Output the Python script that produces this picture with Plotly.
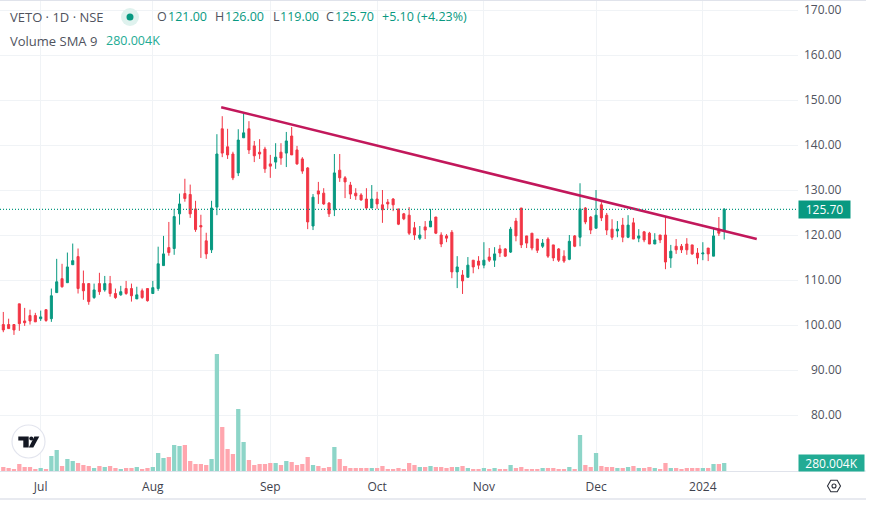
import plotly.graph_objects as go

# Daily OHLC and volume for VETO (NSE), late June 2023 to early January 2024.
opens = [100.1,100.1,100.1,104.7,100.9,102.1,102.1,101.4,103.4,101.4,107.2,110.3,109.4,113.4,115.2,109.2,109.2,106.1,109.2,107.8,
         109.2,107.0,106.7,108.1,108.1,105.8,107.6,108.1,107.0,108.1,113.2,117.2,117.0,124.7,129.2,129.0,125.8,122.1,118.7,116.7,
         126.2,143.6,139.6,138.0,133.8,141.6,143.6,139.8,138.4,139.1,135.8,136.2,138.4,138.2,142.0,138.9,136.9,134.9,122.0,129.8,
         129.3,127.1,125.6,134.4,132.7,131.1,129.3,128.9,128.0,126.0,128.0,126.7,127.3,128.0,125.8,124.7,124.4,121.6,119.3,121.8,
         121.8,124.0,120.0,119.8,120.6,111.8,111.1,110.6,114.4,114.2,113.3,115.1,114.4,116.9,116.9,116.2,123.1,126.0,119.8,120.4,
         119.1,117.5,119.1,117.8,116.9,115.3,114.6,119.8,119.5,126.0,124.0,121.5,126.7,124.4,121.3,120.9,122.2,119.5,122.7,119.3,
         120.7,120.4,118.0,120.0,120.0,114.9,117.5,117.5,118.0,117.8,116.0,115.8,117.1,115.3,121.3,121.0]
highs = [102.9,101.4,100.1,104.7,103.8,103.4,102.7,103.2,103.4,108.1,114.7,113.6,116.1,118.1,117.0,112.1,109.2,109.2,111.6,110.9,
         110.9,108.1,108.7,109.8,109.2,108.5,108.1,108.1,109.8,117.4,119.8,122.9,125.8,129.2,132.5,131.2,127.6,124.5,120.5,127.6,
         142.4,146.4,143.6,138.5,143.5,146.9,145.3,140.9,141.3,139.6,137.8,140.4,140.4,142.9,144.0,139.8,137.3,135.1,129.1,131.8,
         130.4,127.3,138.0,138.0,133.1,131.8,130.4,129.3,130.4,131.1,129.6,130.0,128.0,128.2,125.8,124.9,126.2,122.9,122.0,123.1,
         125.8,124.0,120.6,120.2,121.1,115.3,112.2,115.1,114.4,115.3,118.4,117.1,117.3,117.8,117.1,121.8,123.8,126.0,119.8,120.4,
         119.1,119.1,119.5,117.8,117.1,116.6,120.0,120.0,131.5,126.2,124.2,130.0,127.3,124.9,123.5,123.1,123.8,124.4,123.8,121.3,
         120.9,120.7,120.4,120.0,124.2,117.8,119.1,118.0,119.3,117.8,117.1,118.4,117.1,121.5,124.0,126.0]
lows = [98.4,99.2,97.8,98.7,99.8,100.1,100.7,100.9,100.7,100.7,107.2,108.3,109.4,113.4,107.0,105.6,104.5,105.8,106.7,107.4,
        106.3,105.8,106.5,106.7,105.2,105.8,105.8,105.2,107.0,107.6,113.2,115.4,115.6,122.3,127.4,123.8,120.7,114.9,114.7,116.0,
        124.4,137.3,136.9,132.2,133.1,141.6,138.0,136.2,136.9,133.8,132.7,134.7,135.6,135.1,137.8,135.6,133.6,121.3,121.1,126.9,
        126.7,124.0,124.2,131.8,128.2,128.0,127.8,127.6,125.6,126.0,125.8,122.7,125.8,125.3,122.2,123.3,120.0,118.9,118.9,119.1,
        121.8,120.2,117.3,118.4,110.4,108.2,106.9,110.6,111.5,112.4,112.6,114.0,112.9,115.1,115.1,116.0,118.6,117.1,117.1,116.6,
        116.0,117.1,114.9,114.2,114.0,113.8,114.4,117.3,117.5,122.4,120.2,121.5,123.1,120.0,118.9,119.5,118.4,119.3,119.1,118.4,
        118.4,118.0,118.0,118.2,112.4,112.7,115.8,116.0,115.6,115.6,113.5,114.4,114.2,115.3,119.8,119.0]
closes = [98.9,99.2,98.9,100.3,100.5,100.9,100.7,101.8,101.0,106.5,109.6,108.5,112.9,114.3,108.1,107.6,105.2,107.8,107.4,109.2,
          107.0,106.1,107.4,107.0,106.5,106.7,106.1,105.4,108.3,113.6,115.8,116.1,124.1,126.9,128.1,124.7,121.2,121.8,115.8,126.0,
          138.0,138.2,137.8,132.7,141.1,142.7,138.9,137.6,138.0,134.7,135.3,137.3,137.1,140.9,137.8,135.8,134.2,122.9,128.4,129.1,
          126.9,124.7,133.8,132.7,131.8,129.1,128.7,127.8,126.0,128.0,126.9,125.6,126.9,126.7,122.4,123.6,120.4,120.0,120.0,121.1,
          123.1,120.4,118.0,119.3,111.8,112.9,109.8,113.3,112.9,113.3,114.4,114.4,115.8,116.0,115.3,121.3,119.8,117.8,118.2,117.1,
          116.6,118.2,115.3,114.9,114.4,114.2,118.6,117.5,125.8,122.9,121.1,124.4,123.8,121.1,119.5,121.3,119.5,122.2,119.1,119.8,
          118.9,118.0,118.9,118.9,114.0,116.4,116.7,116.7,116.7,115.8,114.9,116.0,115.8,119.8,120.4,125.7]
volumes_k = [252,189,126,441,252,252,126,189,126,945,1323,315,756,630,504,378,315,189,315,252,
             315,189,126,189,189,252,126,189,252,1134,819,882,1638,1575,1638,630,441,441,378,756,
             7371,2772,1386,1071,3906,1827,693,378,441,441,504,504,378,630,567,378,441,882,378,315,
             189,252,1512,756,315,189,189,189,189,189,189,315,126,126,189,126,504,378,252,252,
             315,252,252,189,252,252,315,189,126,126,189,126,189,126,126,378,189,252,126,126,
             126,189,189,189,126,126,252,126,2268,378,252,1134,315,252,252,189,189,252,315,189,
             189,252,189,126,504,189,189,126,189,189,189,189,189,441,441,504]

month_labels = ["Jul", "Aug", "Sep", "Oct", "Nov", "Dec", "2024"]
month_bars = [7, 28, 50, 70, 90, 111, 131]
price_ticks = [170, 160, 150, 140, 130, 120, 110, 100, 90, 80]

# Hand-drawn resistance line, anchored by bar number and price.
trend_bars = [40.8, 141.1]
trend_prices = [148.4, 119.1]

last_close = closes[-1]
volume_sma = 280.004

assert len(opens) == len(highs) == len(lows) == len(closes) == len(volumes_k)

WIDTH, HEIGHT = 870, 505
PLOT_W, PLOT_H = 798, 471
GREEN, RED = "#089981", "#f23645"
TEXT = "#50535e"
GRID = "#f0f3f6"
FONT = "Open Sans, sans-serif"


def px(x):
    return x / PLOT_W


def py(y):
    return 1 - y / PLOT_H


bars = list(range(len(closes)))
vol_colors = ["#8dd5c8" if c >= o else "#ffa6ae" for o, c in zip(opens, closes)]

fig = go.Figure()
fig.add_bar(x=bars, y=volumes_k, marker=dict(color=vol_colors, line_width=0), yaxis="y2", showlegend=False)
fig.add_candlestick(
    x=bars, open=opens, high=highs, low=lows, close=closes, whiskerwidth=0, showlegend=False,
    increasing=dict(line=dict(color=GREEN, width=1), fillcolor=GREEN),
    decreasing=dict(line=dict(color=RED, width=1), fillcolor=RED),
)
fig.add_scatter(x=trend_bars, y=trend_prices, mode="lines", line=dict(color="#c2185b", width=2.6), showlegend=False)

annotations = []


def label(text, x, y, color=TEXT, anchor="left", size=12, **extra):
    annotations.append(dict(
        text=text, x=px(x), y=py(y), xref="paper", yref="paper", xanchor=anchor, yanchor="middle",
        showarrow=False, font=dict(family=FONT, size=size, color=color), borderpad=0, **extra,
    ))


# Header: instrument, OHLC readout and the volume study value.
label("VETO · 1D · NSE", 9, 17, size=13)
label("O", 156, 17, size=12.5)
label(f"{opens[-1]:.2f}", 167, 17, GREEN, size=12.5)
label("H", 214, 17, size=12.5)
label(f"{highs[-1]:.2f}", 224, 17, GREEN, size=12.5)
label("L", 272, 17, size=12.5)
label(f"{lows[-1]:.2f}", 279, 17, GREEN, size=12.5)
label("C", 325, 17, size=12.5)
label(f"{last_close:.2f}", 334, 17, GREEN, size=12.5)
label("+5.10 (+4.23%)", 381, 17, GREEN, size=12.5)
label("Volume SMA 9", 9, 41, size=13)
label(f"{volume_sma:.3f}K", 105, 41, "#22ab94", size=12.5)

# Price scale, written as right-aligned labels.
for tick in price_ticks:
    label(f"{tick:.2f}", 843, 9.5 + (170 - tick) * 4.5, anchor="right")

annotations.append(dict(
    text=f"{last_close:.2f}", x=px(798), y=last_close, xref="paper", yref="y", xanchor="left", yanchor="middle",
    showarrow=False, bgcolor=GREEN, width=51, height=17, align="center", borderpad=0,
    font=dict(family=FONT, size=12, color="white"),
))
annotations.append(dict(
    text=f"{volume_sma:.3f}K", x=px(798), y=py(463), xref="paper", yref="paper", xanchor="left", yanchor="middle",
    showarrow=False, bgcolor="#22ab94", width=65, height=16, align="center", borderpad=0,
    font=dict(family=FONT, size=12, color="white"),
))

shapes = [
    # Last-price guide
    dict(type="line", xref="paper", x0=0, x1=1, yref="y", y0=last_close, y1=last_close,
         line=dict(color=GREEN, width=1.4, dash="1px,2px"), layer="above"),
    # Frame rules above the plot and under the time scale
    dict(type="line", xref="paper", x0=0, x1=px(866), yref="paper", y0=py(0.5), y1=py(0.5),
         line=dict(color="#e0e3eb", width=1)),
    dict(type="line", xref="paper", x0=px(798), x1=px(866), yref="paper", y0=py(471), y1=py(471),
         line=dict(color="#e0e3eb", width=1)),
    dict(type="line", xref="paper", x0=0, x1=px(866), yref="paper", y0=py(499), y1=py(499),
         line=dict(color="#e0e3eb", width=1.5)),
]


def glyph(cx, cy, path, **style):
    """Fixed-size outline placed in figure pixels; path offsets run upward from (cx, cy)."""
    return dict(type="path", path=path, xref="paper", yref="paper", xsizemode="pixel", ysizemode="pixel",
                xanchor=px(cx), yanchor=py(cy), layer="above", **style)


def disc(cx, cy, r, **style):
    """Fixed-size circle placed in figure pixels."""
    return dict(type="circle", x0=-r, x1=r, y0=-r, y1=r, xref="paper", yref="paper",
                xsizemode="pixel", ysizemode="pixel", xanchor=px(cx), yanchor=py(cy), layer="above", **style)


# Market status dot with its halo
shapes.append(disc(130, 17, 9, fillcolor="#dff2ee", line_width=0))
shapes.append(disc(130, 17, 3.5, fillcolor=GREEN, line_width=0))

# Logo badge at the lower left
shapes.append(disc(28.5, 441.5, 16.5, fillcolor="white", line=dict(color="#e3e5ee", width=1.2)))
shapes.append(glyph(28.5, 441.5, "M-10.2,5 L0.2,5 L0.2,-6 L-5.2,-6 L-5.2,1 L-10.2,1 Z", fillcolor="#131722", line_width=0))
shapes.append(disc(31.3, 438.5, 2, fillcolor="#131722", line_width=0))
shapes.append(glyph(28.5, 441.5, "M5.8,5 L10.8,5 L4.8,-6 L0.3,-6 Z", fillcolor="#131722", line_width=0))

# Settings hexagon in the corner of the time scale
shapes.append(glyph(834, 486, "M-6.5,0 L-3.2,5.8 L3.2,5.8 L6.5,0 L3.2,-5.8 L-3.2,-5.8 Z",
                    line=dict(color="#2a2e39", width=1.1)))
shapes.append(disc(834, 486, 2, line=dict(color="#2a2e39", width=1.1)))

fig.update_layout(
    width=WIDTH, height=HEIGHT, autosize=False,
    margin=dict(l=0, r=WIDTH - PLOT_W, t=0, b=HEIGHT - PLOT_H, pad=0),
    paper_bgcolor="white", plot_bgcolor="white", showlegend=False, bargap=0.2, boxgap=0.45,
    xaxis=dict(
        range=[-0.618, 148.82], rangeslider=dict(visible=False), tickmode="array",
        tickvals=month_bars, ticktext=month_labels, ticks="", showgrid=True, gridcolor=GRID, gridwidth=1,
        zeroline=False, showline=True, linecolor="#e0e3eb", linewidth=1, ticklabelstandoff=5,
        tickfont=dict(family=FONT, size=12, color="#3f434e"),
    ),
    yaxis=dict(
        range=[170 - (PLOT_H - 10) / 4.5, 170 + 10 / 4.5], tickmode="array", tickvals=price_ticks,
        showticklabels=False, ticks="", showgrid=True, gridcolor=GRID, gridwidth=1, zeroline=False, side="right",
    ),
    yaxis2=dict(
        range=[0, PLOT_H * 63], overlaying="y", side="right", showgrid=False, zeroline=False,
        showticklabels=False, ticks="",
    ),
    annotations=annotations, shapes=shapes,
)

fig.write_html("out.html", config=dict(displayModeBar=False))
